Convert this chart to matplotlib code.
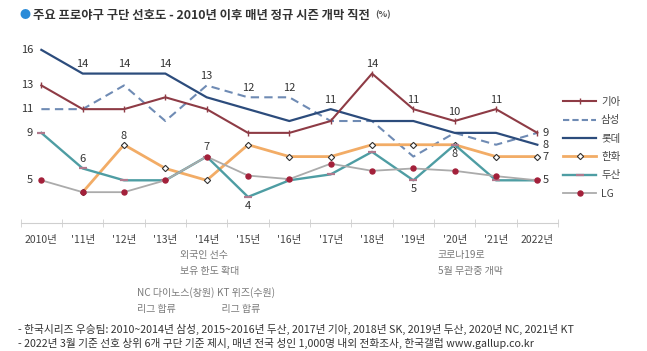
import numpy as np
import matplotlib
matplotlib.use('Agg')
import matplotlib.pyplot as plt
from matplotlib.lines import Line2D

plt.rcParams['font.family'] = ['Noto Sans CJK KR', 'DejaVu Sans']

# ------------------------------------------------------------
# data (%)
# ------------------------------------------------------------
years = ['2010년', "'11년", "'12년", "'13년", "'14년", "'15년", "'16년",
         "'17년", "'18년", "'19년", "'20년", "'21년", '2022년']
kia     = [13, 11, 11, 12, 11, 9, 9, 10, 14, 11, 10, 11, 9]
samsung = [11, 11, 13, 10, 13, 12, 12, 10, 10, 7, 9, 8, 9]
lotte   = [16, 14, 14, 14, 12, 11, 10, 11, 10, 10, 9, 9, 8]
hanwha  = [np.nan, 4, 8, 6, 5, 8, 7, 7, 8, 8, 8, 7, 7]
doosan  = [9, 6, 5, 5, 7, 3.6, 5, 5.5, 7.4, 5, 8, 5, 5]
lg      = [5, 4, 4, 5, 7, 5.4, 5.1, 6.4, 5.8, 6.0, 5.8, 5.35, 5]

# value labels: (series, index, text, where)
labels = [
    (lotte, 0, '16', 'left'), (kia, 0, '13', 'left'), (samsung, 0, '11', 'left'),
    (doosan, 0, '9', 'left'), (lg, 0, '5', 'left'),
    (lotte, 1, '14', 'above'), (lotte, 2, '14', 'above'), (lotte, 3, '14', 'above'),
    (samsung, 4, '13', 'above'), (samsung, 5, '12', 'above'), (samsung, 6, '12', 'above'),
    (lotte, 7, '11', 'above'), (kia, 8, '14', 'above'), (kia, 9, '11', 'above'),
    (kia, 10, '10', 'above'), (kia, 11, '11', 'above'),
    (doosan, 1, '6', 'above'), (hanwha, 2, '8', 'above'), (lg, 4, '7', 'above'),
    (doosan, 5, '4', 'below'), (doosan, 9, '5', 'below'), (doosan, 10, '8', 'below'),
    (kia, 12, '9', 'right'), (lotte, 12, '8', 'right'), (hanwha, 12, '7', 'right'),
    (lg, 12, '5', 'right'),
]

C_KIA = '#8e3b45'
C_SAM = '#6f8bb4'
C_LOT = '#2c4c7c'
C_HAN = '#f2ac66'
C_DOO = '#4e9da3'
C_LG = '#ababab'

fig = plt.figure(figsize=(6.47, 3.51), dpi=100)
W, H = 647, 351
ax = fig.add_axes([20.7 / W, (H - 223) / H, 537.3 / W, 185 / H])
x = np.arange(len(years))

ax.plot(x, samsung, color=C_SAM, lw=1.5, ls=(0, (4, 2.5)), zorder=2)
ax.plot(x, lotte, color=C_LOT, lw=1.6, zorder=3)
ax.plot(x, kia, color=C_KIA, lw=1.5, marker='|', ms=5, mew=1.0, zorder=3)
ax.plot(x, hanwha, color=C_HAN, lw=2.0, marker='D', ms=3.2, mfc='white', mec='#333333', mew=0.8, zorder=4)
ax.plot(x, doosan, color=C_DOO, lw=1.7, marker='_', ms=6, mew=1.6, mec='#b07a8e', zorder=5)
ax.plot(x, lg, color=C_LG, lw=1.3, marker='o', ms=3.6, mfc='#a3203a', mec='#a3203a', zorder=6)

for ser, i, txt, where in labels:
    y = ser[i]
    if where == 'left':
        off, ha, va = (-6, 0), 'right', 'center'
    elif where == 'right':
        off, ha, va = (4, 0), 'left', 'center'
    elif where == 'above':
        off, ha, va = (0, 3), 'center', 'bottom'
    else:
        off, ha, va = (0, -3), 'center', 'top'
    ax.annotate(txt, (x[i], y), xytext=off, textcoords='offset points',
                ha=ha, va=va, fontsize=8, color='#333333')

ax.set_xlim(-0.5, 12.5)
ax.set_ylim(1.4, 17.0)
for s in ['top', 'right', 'left']:
    ax.spines[s].set_visible(False)
ax.spines['bottom'].set_color('#cfcfcf')
ax.set_yticks([])
ax.set_xticks(x)
ax.set_xticklabels(years, fontsize=7.5, color='#444444')
ax.tick_params(axis='x', which='major', length=0, pad=9)
ax.set_xticks(np.arange(-0.5, 13, 1), minor=True)
ax.tick_params(axis='x', which='minor', length=6, direction='inout', color='#cfcfcf')

# legend
handles = [
    Line2D([], [], color=C_KIA, lw=1.5, marker='|', ms=5, mew=1.0, markevery=[1]),
    Line2D([], [], color=C_SAM, lw=1.5, ls=(0, (3, 1.5))),
    Line2D([], [], color=C_LOT, lw=1.6),
    Line2D([], [], color=C_HAN, lw=2.0, marker='D', ms=3.2, mfc='white', mec='#333333', mew=0.8, markevery=[1]),
    Line2D([], [], color=C_DOO, lw=1.7, marker='_', ms=6, mew=1.6, mec='#b07a8e', markevery=[1]),
    Line2D([], [], color=C_LG, lw=1.3, marker='o', ms=3.6, mfc='#a3203a', mec='#a3203a', markevery=[1]),
]
leg = fig.legend(handles, ['기아', '삼성', '롯데', '한화', '두산', 'LG'],
                 loc='upper left', bbox_to_anchor=(563 / W, 1 - 97 / H),
                 frameon=False, fontsize=7.5, handlelength=3.2, handletextpad=0.45,
                 labelspacing=0.80, borderaxespad=0, borderpad=0)
for t in leg.get_texts():
    t.set_color('#444444')

# title
fig.text(19 / W, 1 - 15 / H, '●', color='#2a8bd8', fontsize=8, va='center', ha='left')
fig.text(33 / W, 1 - 15 / H, '주요 프로야구 구단 선호도 - 2010년 이후 매년 정규 시즌 개막 직전',
         fontsize=8.9, fontweight='bold', color='#333333', va='center', ha='left')
fig.text(375 / W, 1 - 15 / H, '(%)', fontsize=6.5, fontweight='bold', color='#555555',
         va='center', ha='left')

# notes under the axis
note_c = '#7a7a7a'
fig.text(180 / W, 1 - 263 / H, '외국인 선수\n보유 한도 확대', fontsize=7.2, color=note_c,
         va='center', ha='left', linespacing=1.75)
fig.text(137 / W, 1 - 301 / H, 'NC 다이노스(창원)\n리그 합류', fontsize=7.2, color=note_c,
         va='center', ha='left', linespacing=1.75)
fig.text(217 / W, 1 - 301 / H, 'KT 위즈(수원)\n  리그 합류', fontsize=7.2, color=note_c,
         va='center', ha='left', linespacing=1.75)
fig.text(438 / W, 1 - 263 / H, '코로나19로\n5월 무관중 개막', fontsize=7.2, color=note_c,
         va='center', ha='left', linespacing=1.75)

# footnotes
fig.text(18 / W, 1 - 329 / H,
         '- 한국시리즈 우승팀: 2010~2014년 삼성, 2015~2016년 두산, 2017년 기아, 2018년 SK, '
         '2019년 두산, 2020년 NC, 2021년 KT',
         fontsize=7.7, color='#333333', va='center', ha='left')
fig.text(18 / W, 1 - 343 / H,
         '- 2022년 3월 기준 선호 상위 6개 구단 기준 제시, 매년 전국 성인 1,000명 내외 전화조사, '
         '한국갤럽 www.gallup.co.kr',
         fontsize=7.7, color='#333333', va='center', ha='left')

fig.savefig('out.png', dpi=100)
